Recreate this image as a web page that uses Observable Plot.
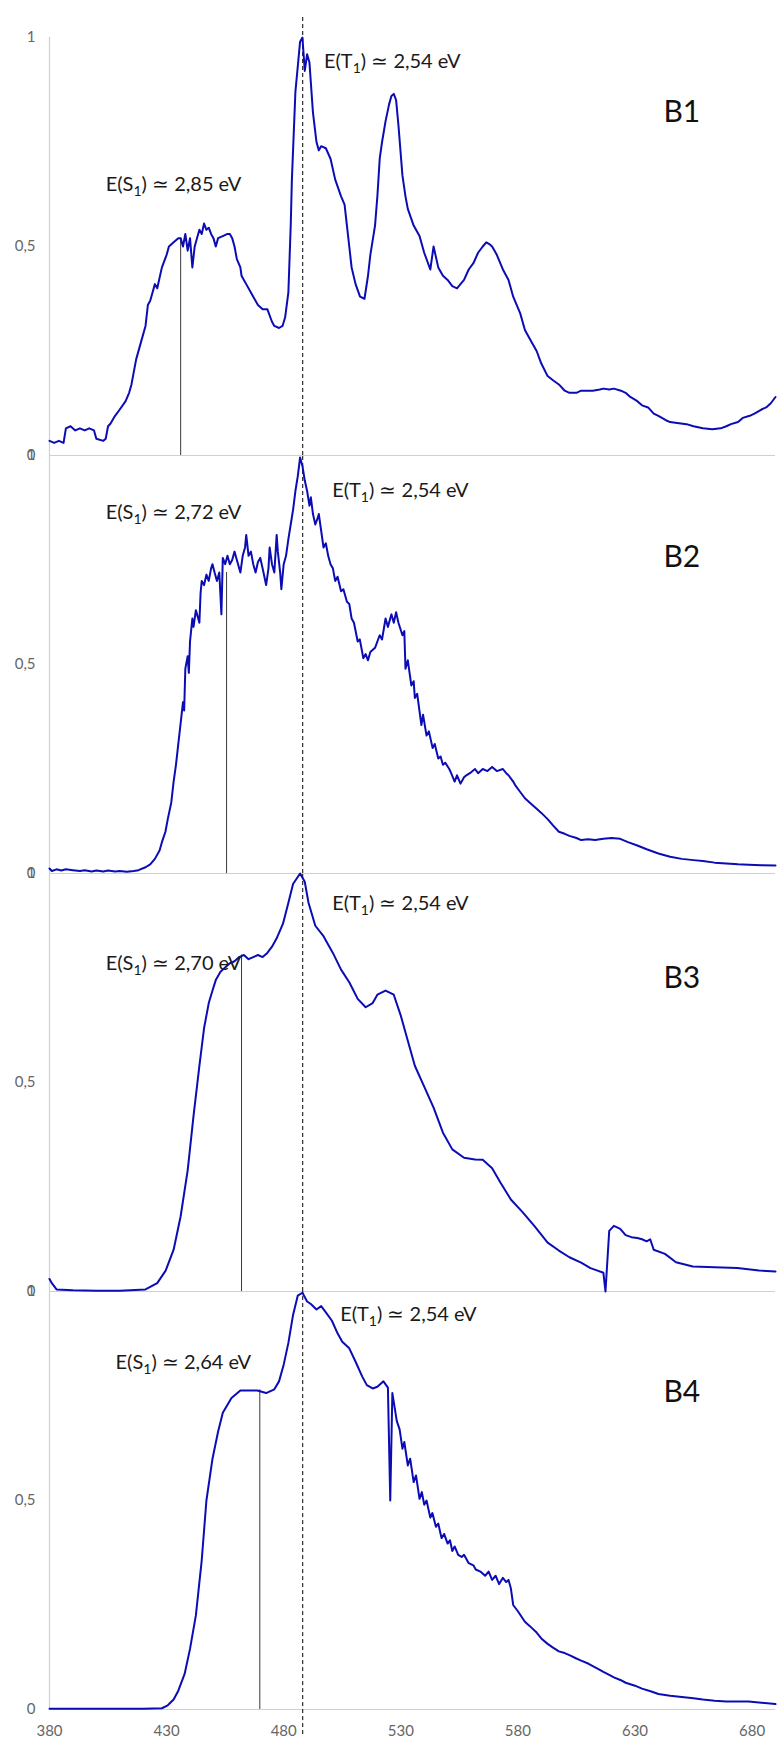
<!DOCTYPE html>
<html>
<head>
<meta charset="utf-8">
<script src="https://cdn.jsdelivr.net/npm/d3@7"></script>
<script src="https://cdn.jsdelivr.net/npm/@observablehq/plot@0.6"></script>
<style>
  html, body { margin: 0; padding: 0; background: #fff; }
  #chart svg { display: block; }
</style>
</head>
<body>
<div id="chart"></div>
<script>
// ---------- data ----------
const panels = ["B1", "B2", "B3", "B4"];
const xTicks = [380, 430, 480, 530, 580, 630, 680];
const yTicks = [0, 0.5, 1];

// emission spectra [wavelength nm, normalised intensity]
const B1 = [[380,0.035],[382,0.03],[384,0.035],[386,0.03],[387,0.065],[389,0.07],[391,0.06],[393,0.065],[395,0.06],[397,0.065],[399,0.06],[400,0.04],[403,0.035],[404,0.04],[405,0.07],[406,0.076],[408,0.095],[410,0.11],[412.5,0.13],[414,0.15],[415,0.17],[416,0.2],[417,0.23],[419,0.27],[421,0.31],[422,0.36],[423,0.37],[424,0.39],[425,0.41],[426,0.40],[428,0.45],[430,0.48],[431,0.5],[433,0.51],[435,0.52],[436,0.52],[437,0.5],[438,0.53],[439,0.49],[440,0.52],[441,0.45],[442,0.5],[444,0.54],[445,0.53],[446,0.555],[447,0.54],[448,0.545],[449,0.53],[450,0.52],[451,0.5],[452,0.52],[454,0.525],[456,0.53],[457,0.53],[458,0.52],[459,0.5],[460,0.47],[461.5,0.45],[462,0.43],[463,0.42],[464,0.41],[466,0.39],[467,0.38],[469,0.36],[471,0.35],[473,0.35],[475,0.32],[476,0.31],[478,0.305],[479.5,0.31],[480.6,0.33],[482,0.39],[483,0.55],[483.5,0.66],[485,0.87],[486,0.93],[487,0.99],[488,1.0],[489,0.92],[490,0.96],[491,0.94],[492.5,0.82],[494,0.75],[495,0.73],[496,0.74],[498,0.735],[500,0.71],[502,0.66],[504.5,0.62],[506,0.6],[507,0.55],[508,0.5],[509,0.45],[510.7,0.41],[512.6,0.38],[514.5,0.375],[516,0.43],[517,0.48],[519,0.55],[520,0.62],[521,0.71],[522,0.75],[523.5,0.8],[525,0.84],[526,0.86],[527,0.865],[528,0.85],[529,0.79],[530.7,0.67],[532,0.62],[533,0.59],[535.5,0.55],[538,0.525],[540,0.485],[542.6,0.445],[544,0.5],[546,0.45],[548,0.43],[550,0.42],[552,0.405],[554,0.4],[555.5,0.41],[557,0.42],[559,0.445],[561,0.46],[563,0.485],[565,0.5],[566.5,0.51],[568,0.505],[569,0.5],[571,0.48],[573.6,0.445],[576,0.42],[578,0.38],[581,0.34],[583,0.30],[585,0.28],[588,0.25],[590,0.22],[592.7,0.19],[595,0.18],[597.5,0.17],[600,0.155],[602,0.15],[605,0.15],[607,0.155],[610,0.155],[612,0.155],[615,0.158],[616.5,0.16],[619,0.158],[621,0.16],[624,0.155],[626,0.15],[628,0.14],[631,0.13],[633,0.12],[635.6,0.115],[638,0.1],[640,0.095],[643,0.085],[645,0.08],[648,0.078],[652,0.075],[655,0.07],[659,0.065],[663,0.063],[666.6,0.065],[669,0.07],[671,0.075],[674,0.08],[676,0.09],[679,0.095],[681,0.1],[684,0.11],[686,0.115],[688,0.125],[690,0.14]];

const B2 = [[380,0.012],[381,0.006],[383,0.01],[385,0.007],[387,0.01],[390,0.008],[393,0.006],[395,0.008],[398,0.005],[400,0.007],[403,0.005],[405,0.007],[408,0.005],[410,0.006],[413,0.004],[416,0.006],[418,0.008],[421,0.015],[423,0.022],[425,0.035],[427,0.055],[428,0.075],[429.5,0.1],[430.5,0.13],[432,0.17],[433,0.22],[434,0.26],[435,0.31],[436,0.36],[437,0.41],[437.5,0.39],[438,0.49],[439,0.52],[439.5,0.48],[440,0.555],[441,0.61],[441.5,0.59],[442.5,0.63],[443,0.62],[444,0.60],[444.5,0.67],[445,0.70],[446,0.69],[447,0.715],[448,0.70],[449,0.73],[449.6,0.74],[450.5,0.72],[451.5,0.70],[452.5,0.72],[453.4,0.62],[454,0.755],[455,0.74],[456,0.76],[457,0.74],[458,0.75],[459,0.77],[460,0.75],[461.5,0.72],[462.5,0.76],[463.5,0.78],[464,0.81],[465,0.76],[466,0.77],[467,0.74],[468,0.72],[469,0.745],[470,0.755],[471,0.73],[472.5,0.69],[473.5,0.73],[474,0.78],[475,0.74],[476,0.72],[477,0.81],[477.5,0.77],[478.5,0.72],[479,0.68],[480,0.74],[481,0.76],[482,0.8],[483,0.835],[484,0.87],[485,0.915],[486,0.95],[487,0.995],[488,0.975],[489,0.94],[490,0.915],[491,0.88],[491.6,0.9],[492.5,0.86],[493.5,0.835],[494.5,0.85],[495,0.86],[496,0.82],[497,0.78],[498,0.79],[499,0.76],[500,0.74],[501,0.73],[502,0.70],[503,0.71],[504.5,0.675],[505.5,0.68],[507,0.65],[508,0.645],[509,0.61],[510,0.6],[511.6,0.555],[512.5,0.56],[514,0.515],[515,0.525],[516,0.51],[517,0.53],[519,0.54],[520,0.555],[521,0.57],[522,0.56],[523.5,0.61],[524.5,0.59],[526,0.62],[527,0.6],[528,0.625],[529,0.6],[530.7,0.57],[531.5,0.58],[532,0.49],[533,0.51],[534.5,0.45],[535.5,0.46],[536,0.42],[537,0.43],[538.8,0.355],[539.5,0.38],[541,0.33],[542,0.34],[543.6,0.30],[544.5,0.31],[546,0.275],[547,0.28],[548,0.26],[549,0.265],[550.7,0.25],[551.5,0.24],[553,0.22],[554,0.235],[555.5,0.215],[557,0.23],[558,0.235],[559.5,0.24],[561.7,0.25],[563,0.24],[565,0.25],[567,0.245],[569,0.255],[571,0.245],[573.6,0.25],[575,0.24],[576,0.235],[578,0.22],[579,0.21],[581,0.195],[583,0.18],[585,0.17],[588,0.155],[590,0.145],[592.7,0.13],[595,0.115],[597.5,0.10],[600,0.095],[602,0.09],[605,0.085],[607,0.08],[610,0.082],[613,0.08],[616.5,0.083],[620,0.085],[623.7,0.083],[627,0.075],[631,0.067],[635,0.058],[640,0.048],[645,0.04],[650,0.035],[655,0.032],[659,0.03],[664,0.026],[669,0.024],[674,0.022],[678.5,0.021],[684,0.02],[690,0.019]];

const B3 = [[380,0.03],[381,0.02],[383,0.005],[390,0.003],[400,0.002],[410,0.002],[421,0.005],[426,0.02],[429.6,0.05],[433,0.10],[436,0.18],[439,0.29],[441.5,0.42],[444,0.54],[446,0.63],[448,0.69],[449.6,0.72],[451,0.745],[453,0.765],[455,0.775],[457,0.785],[459,0.79],[461,0.8],[463,0.805],[465,0.795],[467,0.8],[469,0.805],[471,0.8],[473,0.81],[475,0.825],[477,0.845],[479.7,0.88],[482,0.93],[484,0.975],[487,1.0],[489,0.98],[490.6,0.93],[493.5,0.875],[497,0.85],[501,0.81],[504.5,0.77],[508,0.74],[511.6,0.70],[515,0.68],[518,0.69],[520,0.71],[523.5,0.72],[527,0.71],[530,0.66],[533,0.60],[536,0.54],[540,0.49],[544,0.44],[548,0.38],[552,0.34],[557,0.32],[561.7,0.316],[565,0.315],[569,0.295],[572.6,0.26],[577,0.22],[582,0.19],[587,0.157],[592.7,0.117],[597.5,0.098],[602,0.082],[607,0.069],[611,0.056],[614,0.05],[616.5,0.045],[617.4,0.0],[619,0.145],[621,0.157],[623.7,0.15],[626,0.135],[628.5,0.13],[631,0.128],[633,0.125],[635,0.12],[636.5,0.125],[638,0.10],[642.8,0.09],[647.5,0.07],[654.7,0.06],[664,0.058],[673.7,0.056],[683,0.05],[690,0.048]];

const B4 = [[380,0.002],[400,0.002],[420,0.002],[428,0.003],[430.5,0.01],[433,0.024],[435,0.045],[437.7,0.085],[440,0.145],[442.5,0.225],[445,0.357],[447,0.50],[449.6,0.6],[452,0.665],[454,0.71],[457.7,0.745],[461.5,0.763],[465,0.763],[468.7,0.763],[472.5,0.757],[476,0.766],[478,0.785],[480,0.825],[482,0.877],[484,0.944],[486,0.99],[488,0.997],[490,0.976],[491.6,0.97],[494,0.957],[496,0.965],[498,0.95],[500.6,0.93],[503,0.90],[505,0.88],[508,0.864],[510.7,0.832],[513.5,0.797],[515.5,0.776],[518,0.768],[520,0.772],[522.6,0.785],[524.5,0.77],[525.5,0.50],[526.4,0.757],[528.3,0.69],[529.5,0.67],[530.7,0.624],[531.5,0.64],[533,0.584],[534,0.6],[535.5,0.544],[536.5,0.56],[538,0.504],[539,0.52],[540,0.49],[541,0.5],[542.6,0.459],[543.5,0.47],[545,0.437],[546,0.445],[547.4,0.41],[548.5,0.42],[550,0.397],[551,0.405],[552,0.379],[553,0.39],[554.5,0.37],[556,0.365],[557,0.37],[559,0.35],[561,0.345],[562,0.335],[564,0.33],[566,0.32],[567.5,0.33],[569,0.31],[570.5,0.32],[572,0.3],[573.6,0.315],[575,0.305],[576,0.31],[577,0.29],[578,0.25],[580,0.235],[583,0.21],[585,0.2],[588,0.184],[590,0.17],[592.7,0.157],[595,0.148],[597.5,0.139],[600,0.135],[602,0.13],[605,0.122],[607,0.117],[610,0.11],[612,0.104],[614,0.098],[616.5,0.09],[619,0.083],[621,0.077],[624,0.07],[626,0.064],[630,0.057],[633,0.05],[637,0.043],[640,0.037],[645,0.033],[650,0.03],[655,0.027],[659,0.024],[664,0.021],[669,0.019],[674,0.019],[678.5,0.019],[684,0.016],[690,0.013]];

const spectra = [B1, B2, B3, B4];

// annotations
const s1Texts = ["E(S1) ≃ 2,85 eV", "E(S1) ≃ 2,72 eV", "E(S1) ≃ 2,70 eV", "E(S1) ≃ 2,64 eV"];
const s1Nm = [436, 455.6, 462, 469.8];          // S1 marker wavelengths
const s1CurveValue = [0.52, 0.72, 0.805, 0.765];
const t1Text = "E(T1) ≃ 2,54 eV";
const t1eV = 2.54;

// annotation placement (data units)
const s1LabelX = [404, 404, 404, 408.2];
const s1LabelY = [0.647, 0.864, 0.785, 0.83];
const t1LabelX = [497.2, 500.7, 500.7, 504.1];
const t1LabelY = [0.943, 0.916, 0.928, 0.945];
const panelLabelX = 650;
const panelLabelY = [0.82, 0.756, 0.75, 0.758];

// ---------- build tables ----------
const hc = 1239.84;
const rows = [];
spectra.forEach((s, i) => s.forEach(([nm, v]) => rows.push({panel: panels[i], nm, v})));
const s1Rules = panels.map((p, i) => ({panel: p, nm: s1Nm[i], top: s1CurveValue[i]}));
const dashRules = panels.map((p, i) => ({panel: p, y1: i === 3 ? -0.06 : 0, y2: i === 0 ? 1.053 : 1}));
const s1Ann = panels.map((p, i) => ({panel: p, x: s1LabelX[i], y: s1LabelY[i], text: s1Texts[i]}));
const t1Ann = panels.map((p, i) => ({panel: p, x: t1LabelX[i], y: t1LabelY[i], text: t1Text}));
const pAnn = panels.map((p, i) => ({panel: p, x: panelLabelX, y: panelLabelY[i], text: p}));

const fmt = d => String(d).replace(".", ",");

const chart = Plot.plot({
  width: 779,
  height: 1747,
  marginLeft: 49,
  marginRight: 4,
  marginTop: 35,
  marginBottom: 37,
  style: {fontFamily: "Lato, 'Open Sans', sans-serif", background: "#fff", color: "#595959", overflow: "visible"},
  x: {domain: [380, 690]},
  y: {domain: [0, 1]},
  fy: {domain: panels, padding: 0, axis: null},
  marks: [
    Plot.ruleY([0], {stroke: "#d0d0d0", strokeWidth: 1.2}),
    Plot.ruleX([380], {stroke: "#d0d0d0", strokeWidth: 1.2}),
    Plot.axisY({ticks: yTicks, tickSize: 0, tickPadding: 14, tickFormat: fmt, label: null, fontSize: 15, fill: "#666"}),
    Plot.axisX({ticks: xTicks, tickSize: 0, tickPadding: 16, label: null, fontSize: 15, fill: "#666"}),
    Plot.ruleX(s1Rules, {x: "nm", y1: 0, y2: "top", fy: "panel", stroke: "#3a3a3a", strokeWidth: 1}),
    Plot.ruleX(dashRules, {x: hc / t1eV, y1: "y1", y2: "y2", fy: "panel", stroke: "#000", strokeWidth: 1, strokeDasharray: "4,3"}),
    Plot.line(rows, {x: "nm", y: "v", fy: "panel", stroke: "#0c0cb5", strokeWidth: 2, strokeLinejoin: "round"}),
    Plot.text(s1Ann, {x: "x", y: "y", fy: "panel", text: "text", textAnchor: "start", fontSize: 20, fill: "#1a1a1a", className: "ann"}),
    Plot.text(t1Ann, {x: "x", y: "y", fy: "panel", text: "text", textAnchor: "start", fontSize: 20, fill: "#1a1a1a", className: "ann"}),
    Plot.text(pAnn, {x: "x", y: "y", fy: "panel", text: "text", textAnchor: "middle", fontSize: 30, fill: "#111"})
  ]
});

// subscripts: E(S1) -> E(S with lowered small 1)
chart.querySelectorAll("g.ann text").forEach(t => {
  const s = t.textContent;
  const m = s.match(/^(E\([ST])1(\).*)$/);
  if (!m) return;
  t.textContent = "";
  const ns = "http://www.w3.org/2000/svg";
  const a = document.createElementNS(ns, "tspan"); a.textContent = m[1];
  const b = document.createElementNS(ns, "tspan"); b.textContent = "1"; b.setAttribute("dy", "5"); b.setAttribute("font-size", "14");
  const c = document.createElementNS(ns, "tspan"); c.textContent = m[2]; c.setAttribute("dy", "-5");
  t.append(a, b, c);
});

document.getElementById("chart").append(chart);
</script>
</body>
</html>
